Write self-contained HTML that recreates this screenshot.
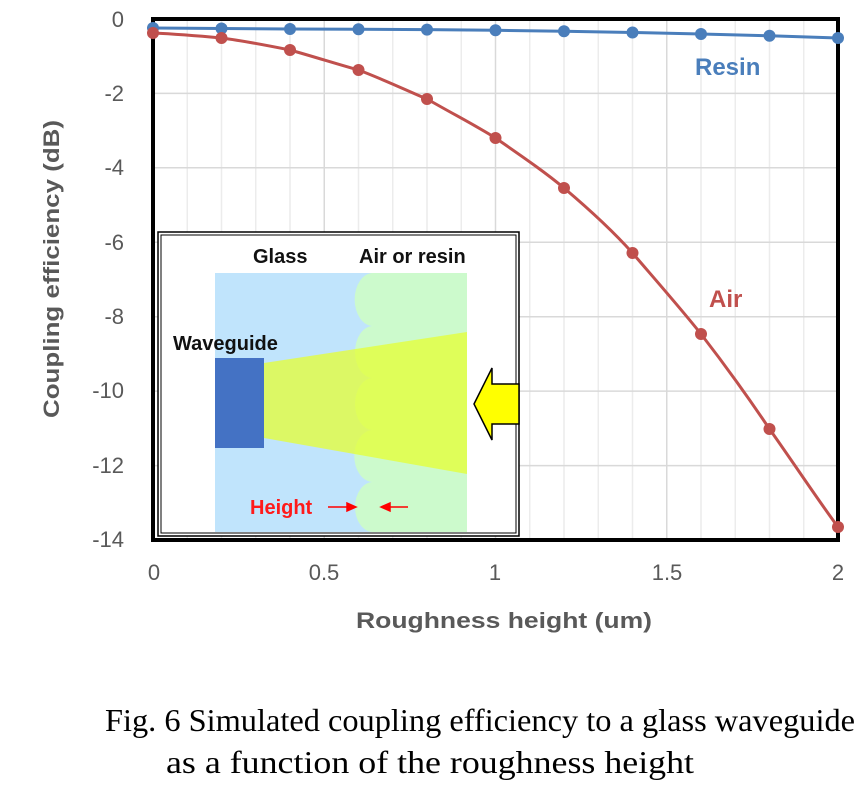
<!DOCTYPE html>
<html><head><style>
body{margin:0;background:#fff;width:865px;height:794px;overflow:hidden}
svg text{font-family:"Liberation Sans","DejaVu Sans",sans-serif}
</style></head><body>
<svg width="865" height="794" viewBox="0 0 865 794" xmlns="http://www.w3.org/2000/svg">
<g stroke="#ececec" stroke-width="1.5">
<line x1="187.25" y1="19" x2="187.25" y2="540"/><line x1="221.5" y1="19" x2="221.5" y2="540"/><line x1="255.75" y1="19" x2="255.75" y2="540"/><line x1="290" y1="19" x2="290" y2="540"/>
<line x1="358.5" y1="19" x2="358.5" y2="540"/><line x1="392.75" y1="19" x2="392.75" y2="540"/><line x1="427" y1="19" x2="427" y2="540"/><line x1="461.25" y1="19" x2="461.25" y2="540"/>
<line x1="529.75" y1="19" x2="529.75" y2="540"/><line x1="564" y1="19" x2="564" y2="540"/><line x1="598.25" y1="19" x2="598.25" y2="540"/><line x1="632.5" y1="19" x2="632.5" y2="540"/>
<line x1="701" y1="19" x2="701" y2="540"/><line x1="735.25" y1="19" x2="735.25" y2="540"/><line x1="769.5" y1="19" x2="769.5" y2="540"/><line x1="803.75" y1="19" x2="803.75" y2="540"/>
</g>
<g stroke="#d9d9d9" stroke-width="1.5">
<line x1="324.25" y1="19" x2="324.25" y2="540"/><line x1="495.5" y1="19" x2="495.5" y2="540"/><line x1="666.75" y1="19" x2="666.75" y2="540"/>
<line x1="153" y1="93.4" x2="838" y2="93.4"/><line x1="153" y1="167.8" x2="838" y2="167.8"/><line x1="153" y1="242.3" x2="838" y2="242.3"/><line x1="153" y1="316.7" x2="838" y2="316.7"/><line x1="153" y1="391.1" x2="838" y2="391.1"/><line x1="153" y1="465.6" x2="838" y2="465.6"/>
</g>
<rect x="153" y="19" width="685" height="521" fill="none" stroke="#000" stroke-width="4"/>
<rect x="158" y="232" width="361" height="304" fill="#fff" stroke="#000" stroke-width="1.5"/>
<rect x="161" y="235" width="355" height="298" fill="none" stroke="#000" stroke-width="1"/>
<rect x="215" y="273" width="252" height="259" fill="#c0e4fc"/>
<path d="M373 273 H467 V532 H373 A18 25 0 0 1 373 482 A18 25 0 0 1 373 430 A18 26 0 0 1 373 378 A18 26 0 0 1 373 326 A18 26 0 0 1 373 273 Z" fill="#ccfacc"/>
<polygon points="264,363 467,332 467,474 264,438" fill="#e6ff33" opacity="0.75"/>
<rect x="215" y="358" width="49" height="90" fill="#4472c4"/>
<polygon points="474,404 492,368 492,384 519,384 519,424 492,424 492,440" fill="#ffff00" stroke="#000" stroke-width="1.5"/>
<text x="253" y="263" font-size="20" font-weight="bold" fill="#111">Glass</text>
<text x="359" y="263" font-size="20" font-weight="bold" fill="#111">Air or resin</text>
<text x="173" y="350" font-size="20" font-weight="bold" fill="#111">Waveguide</text>
<text x="250" y="514" font-size="20" font-weight="bold" fill="#ff1a1a">Height</text>
<g stroke="#ff0000" stroke-width="1.5" fill="#ff0000"><line x1="328" y1="507" x2="350" y2="507"/><polygon points="356,507 347,503 347,511"/><line x1="390" y1="507" x2="408" y2="507"/><polygon points="381,507 390,503 390,511"/></g>
<polyline fill="none" stroke="#4a7ebb" stroke-width="3" points="153,28 221.5,28.5 290,29 358.5,29.3 427,29.6 495.5,30.3 564,31.3 632.5,32.5 701,34 769.5,35.8 838,38"/>
<g fill="#4a7ebb"><circle cx="153" cy="28" r="6"/><circle cx="221.5" cy="28.5" r="6"/><circle cx="290" cy="29" r="6"/><circle cx="358.5" cy="29.3" r="6"/><circle cx="427" cy="29.6" r="6"/><circle cx="495.5" cy="30.3" r="6"/><circle cx="564" cy="31.3" r="6"/><circle cx="632.5" cy="32.5" r="6"/><circle cx="701" cy="34" r="6"/><circle cx="769.5" cy="35.8" r="6"/><circle cx="838" cy="38" r="6"/></g>
<path fill="none" stroke="#c0504d" stroke-width="3" d="M153,33 C175,34 200,36 221.5,38 C245,41 270,46 290,50 C315,57 340,65 358.5,70 C385,80 410,92 427,99 C455,115 480,128 495.5,138 C520,155 545,172 564,188 C590,210 612,230 632.5,253 C660,285 682,310 701,334 C725,365 748,397 769.5,429 C795,465 818,500 838,527"/>
<g fill="#c0504d"><circle cx="153" cy="33" r="6"/><circle cx="221.5" cy="38" r="6"/><circle cx="290" cy="50" r="6"/><circle cx="358.5" cy="70" r="6"/><circle cx="427" cy="99" r="6"/><circle cx="495.5" cy="138" r="6"/><circle cx="564" cy="188" r="6"/><circle cx="632.5" cy="253" r="6"/><circle cx="701" cy="334" r="6"/><circle cx="769.5" cy="429" r="6"/><circle cx="838" cy="527" r="6"/></g>
<text x="695" y="75" font-size="24" font-weight="bold" fill="#4a7ebb">Resin</text>
<text x="709" y="307" font-size="24" font-weight="bold" fill="#c0504d">Air</text>
<g font-size="22" fill="#595959" text-anchor="end">
<text x="124" y="27">0</text><text x="124" y="101">-2</text><text x="124" y="175">-4</text><text x="124" y="250">-6</text><text x="124" y="324">-8</text><text x="124" y="398">-10</text><text x="124" y="473">-12</text><text x="124" y="547">-14</text>
</g>
<g font-size="22" fill="#595959" text-anchor="middle">
<text x="154" y="580">0</text><text x="324" y="580">0.5</text><text x="495" y="580">1</text><text x="667" y="580">1.5</text><text x="838" y="580">2</text>
</g>
<text x="356" y="628" font-size="22" font-weight="bold" fill="#595959" textLength="296" lengthAdjust="spacingAndGlyphs">Roughness height (um)</text>
<text transform="translate(59,418) rotate(-90)" font-size="22" font-weight="bold" fill="#595959" textLength="298" lengthAdjust="spacingAndGlyphs">Coupling efficiency (dB)</text>
<text x="105" y="731" font-size="32" fill="#000" textLength="750" lengthAdjust="spacingAndGlyphs" style="font-family:'Liberation Serif',serif">Fig. 6 Simulated coupling efficiency to a glass waveguide</text>
<text x="166" y="773" font-size="32" fill="#000" textLength="528" lengthAdjust="spacingAndGlyphs" style="font-family:'Liberation Serif',serif">as a function of the roughness height</text>
</svg>
</body></html>
